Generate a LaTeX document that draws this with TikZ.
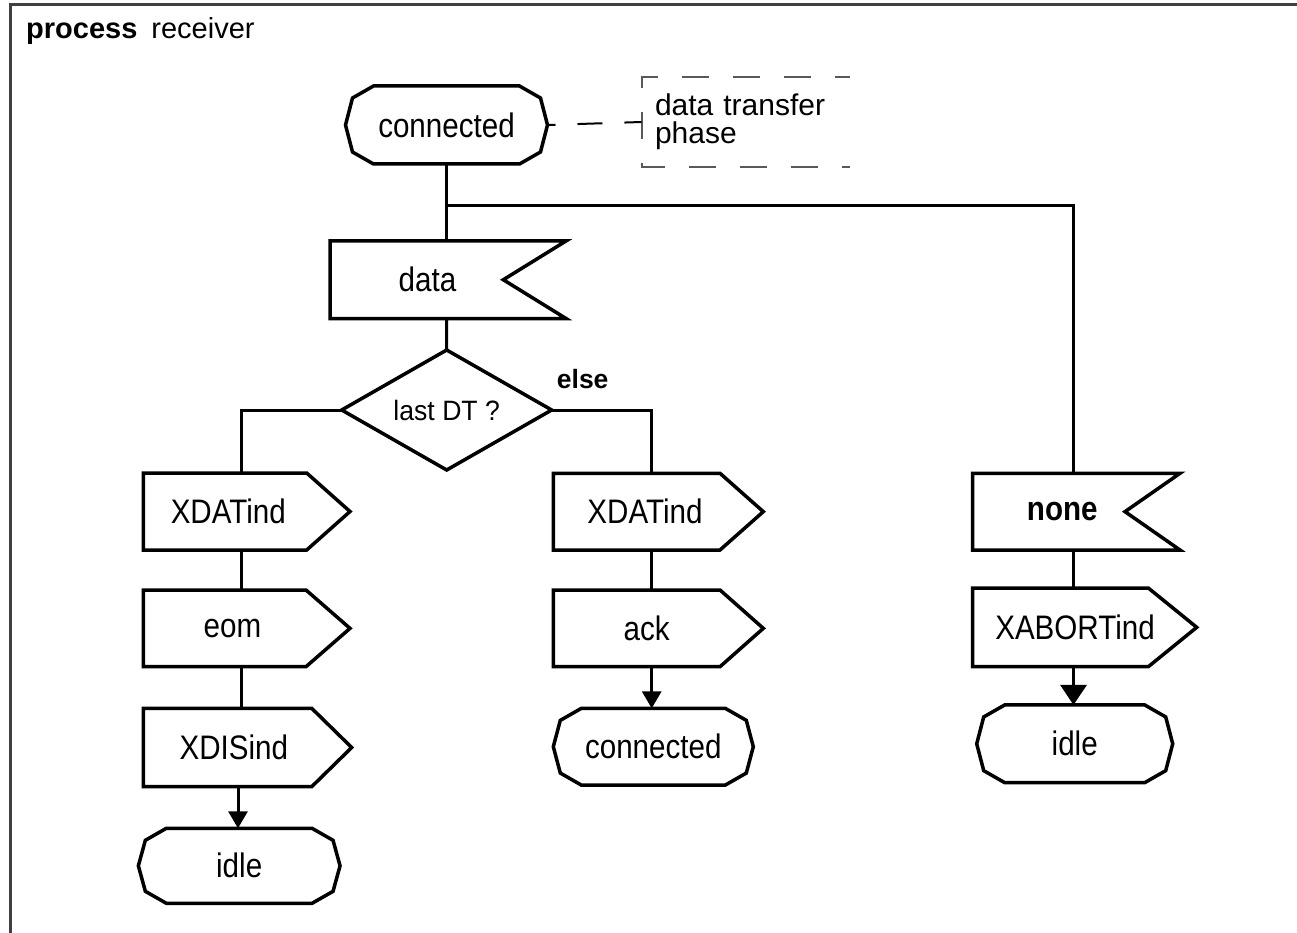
\documentclass[tikz,border=0pt]{standalone}
\usepackage{fontspec}
\setmainfont{Liberation Sans}
\newfontfamily\boxfont[FakeStretch=0.87]{Liberation Sans}
\newfontfamily\dtfont[FakeStretch=0.95]{Liberation Sans}
\usetikzlibrary{arrows.meta,shapes.geometric}

\tikzset{
  shp/.style={line width=3.5pt, line join=miter, black},
  conn/.style={line width=3pt, black},
  flow/.style={conn, -{Triangle[width=19pt,length=17pt]}},
  bigflow/.style={conn, -{Triangle[width=26pt,length=20pt]}},
  box/.style={draw=none, inner sep=0pt, outer sep=0pt, font=\boxfont\fontsize{34}{40}\selectfont},
  cmtline/.style={line width=2pt, black!65, dash pattern=on 27pt off 24pt, dash phase=11.5pt},
  cmtconn/.style={line width=2pt, black, dash pattern=on 25pt off 22pt, dash phase=17pt},
  framel/.style={line width=3pt, black!75}
}

% state symbol outline (chamfered ends)
\newcommand\stateoutline[1]{%
  \draw[shp] ([xshift=28pt]#1.north west) -- ([xshift=-28pt]#1.north east)
    -- ([xshift=-7pt,yshift=-12pt]#1.north east) -- (#1.east)
    -- ([xshift=-7pt,yshift=12pt]#1.south east) -- ([xshift=-28pt]#1.south east)
    -- ([xshift=28pt]#1.south west) -- ([xshift=7pt,yshift=12pt]#1.south west)
    -- (#1.west) -- ([xshift=7pt,yshift=-12pt]#1.north west) -- cycle;}
% output signal outline: name, left, body right, tip (offsets from centre)
\newcommand\outsigoutline[4]{%
  \draw[shp] ([xshift=#2pt]#1.north) -- ([xshift=#3pt]#1.north)
    -- ([xshift=#4pt]#1.center) -- ([xshift=#3pt]#1.south)
    -- ([xshift=#2pt]#1.south) -- cycle;}
% input signal outline: name, left, notch, tips (offsets from centre)
\newcommand\insigoutline[4]{%
  \draw[shp] ([xshift=#2pt]#1.north) -- ([xshift=#4pt]#1.north)
    -- ([xshift=#3pt]#1.center) -- ([xshift=#4pt]#1.south)
    -- ([xshift=#2pt]#1.south) -- cycle;}

\begin{document}
\begin{tikzpicture}[x=1pt,y=-1pt]
\useasboundingbox[fill=white] (0,0) rectangle (1297,933);

% frame and title
\draw[framel] (1297,5) -- (10,5) -- (10,933);
\node[anchor=base west, inner sep=0pt, font=\fontsize{29}{34}\selectfont] (title) at (26,39)
  {\textbf{process}\hspace{14pt}receiver};

% start state and comment
\node[box, minimum width=202pt, minimum height=78pt] (s0) at (446.5,125) {connected};
\stateoutline{s0}
\node[box, minimum width=208.5pt, minimum height=90pt, inner xsep=13.5pt,
      text width=181.5pt, align=left, font=\fontsize{30}{28}\selectfont] (cmt) at (745.75,122)
  {data transfer\\phase};
\draw[cmtline] (cmt.north east) -- (cmt.north west) -- (cmt.south west) -- (cmt.south east);
\draw[cmtconn] (s0.east) -- (cmt.west);

% input data and decision
\node[box, minimum height=77.5pt] (data) at (427.5,279.75) {data};
\insigoutline{data}{-97.5}{75.8}{138.5}
\node[diamond, aspect=1.75, draw, shp, minimum width=210pt, minimum height=120pt,
      inner sep=0pt, outer sep=0pt, font=\dtfont\fontsize{28}{32}\selectfont] (dt) at (446.7,410) {last DT ?};
\node[anchor=base west, inner sep=0pt, font=\fontsize{26.5}{30}\selectfont\bfseries] (else) at (556.7,388) {else};

% left branch
\node[box, minimum height=77pt] (oL1) at (228.3,511.5) {XDATind};
\outsigoutline{oL1}{-85}{78.4}{121.7}
\node[box, minimum height=76.7pt] (oL2) at (232.5,628.35) {eom};
\outsigoutline{oL2}{-89.2}{73.5}{117.5}
\node[box, minimum height=78.4pt] (oL3) at (233.8,747.5) {XDISind};
\outsigoutline{oL3}{-90.5}{77.9}{117.9}
\node[box, minimum width=201.7pt, minimum height=75pt] (sL) at (239.2,865.8) {idle};
\stateoutline{sL}

% middle branch
\node[box, minimum height=76.7pt] (oM1) at (645,511.65) {XDATind};
\outsigoutline{oM1}{-91.7}{75}{118.3}
\node[box, minimum height=76.7pt] (oM2) at (646.7,628.35) {ack};
\outsigoutline{oM2}{-93.4}{73.3}{116.6}
\node[box, minimum width=200pt, minimum height=76.7pt] (sM) at (653.3,746.7) {connected};
\stateoutline{sM}

% right branch
\node[box, minimum height=76.7pt, font=\boxfont\fontsize{34}{40}\selectfont\bfseries] (none) at (1062.3,511.65) {none};
\insigoutline{none}{-89.6}{62.7}{117.7}
\node[box, minimum height=78.7pt] (oR) at (1075,627.35) {XABORTind};
\outsigoutline{oR}{-102.3}{73.3}{121.7}
\node[box, minimum width=196pt, minimum height=77.7pt] (sR) at (1074.7,743.8) {idle};
\stateoutline{sR}

% column coordinates
\coordinate (junc) at (446.5,206);
\coordinate (cL) at (241,0);
\coordinate (aL) at (238,0);
\coordinate (cM) at (651.7,0);
\coordinate (cR) at (1073.5,0);

% connectors
\draw[conn] (s0.south) -- (s0.south |- data.north);
\draw[conn] (junc) -| (none.north -| cR);
\draw[conn] (data.south -| s0.south) -- (dt.north);
\draw[conn] (dt.west) -| (oL1.north -| cL);
\draw[conn] (dt.east) -| (oM1.north -| cM);
\draw[conn] (oL1.south -| cL) -- (oL2.north -| cL);
\draw[conn] (oL2.south -| cL) -- (oL3.north -| cL);
\draw[flow] (oL3.south -| aL) -- (sL.north -| aL);
\draw[conn] (oM1.south -| cM) -- (oM2.north -| cM);
\draw[flow] (oM2.south -| cM) -- (sM.north -| cM);
\draw[conn] (none.south -| cR) -- (oR.north -| cR);
\draw[bigflow] (oR.south -| cR) -- (sR.north -| cR);
\end{tikzpicture}
\end{document}
